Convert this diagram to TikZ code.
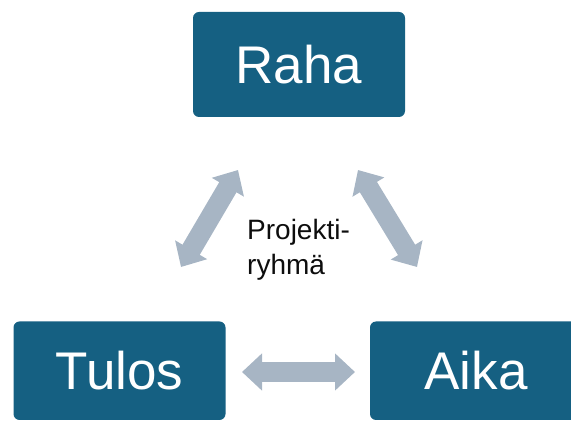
\documentclass[tikz,border=0pt]{standalone}
\usepackage{fontspec}
\setmainfont{Liberation Sans}
\usetikzlibrary{arrows.meta}
\begin{document}
\begin{tikzpicture}[x=1pt,y=1pt]
\definecolor{fillColor}{RGB}{21,96,130}
\definecolor{arrowColor}{RGB}{167,181,196}
\definecolor{textColor}{RGB}{13,13,13}
\tikzset{
  box/.style={fill=fillColor,rounded corners=6pt,inner sep=0pt,minimum width=212pt,
    text=white,font=\fontsize{53}{60}\selectfont},
  link/.style={draw=arrowColor,line width=20pt,
    {Triangle[length=20pt,width=36pt]}-{Triangle[length=20pt,width=36pt]}}
}
\path[use as bounding box] (0,0) rectangle (571,423);
\begin{scope}
\path[clip] (0,0) rectangle (571,423);

\node[box,minimum height=105pt] (raha) at (299,358.5) {Raha};

\node[box,minimum height=98.5pt] (tulos) at (119.5,52.25) {Tulos};

\node[box,minimum height=98.5pt] (aika) at (476,52.25) {Aika};

\node[anchor=north west,align=left,inner sep=0pt,text=textColor,
  font=\fontsize{28}{35}\selectfont] (ryhma) at (247,203.5) {Projekti-\\ryhmä};
\end{scope}
\begin{scope}
\coordinate (lt) at (238,253);
\coordinate (lb) at (181,156);
\coordinate (rt) at (358,253);
\coordinate (rb) at (417,156);
\coordinate (hl) at (242,51);
\coordinate (hr) at (355,51);

\draw[link] (lb) -- (lt);

\draw[link] (rt) -- (rb);

\draw[link] (hl) -- (hr);
\end{scope}
\end{tikzpicture}
\end{document}
